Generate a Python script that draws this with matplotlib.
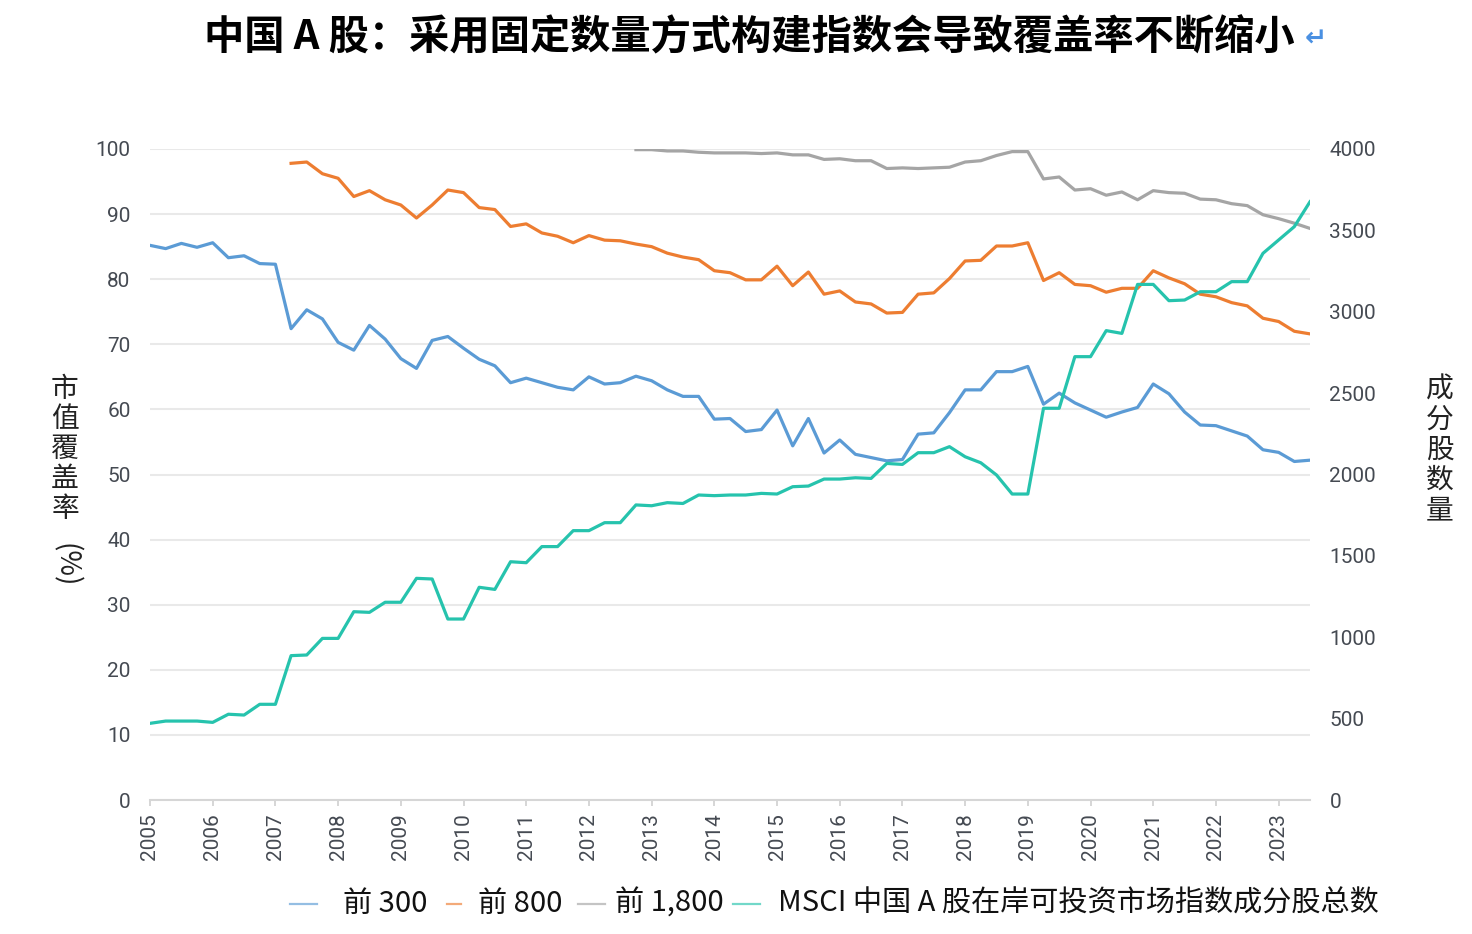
import numpy as np
import matplotlib
matplotlib.use("Agg")
import matplotlib.pyplot as plt
from matplotlib.lines import Line2D

plt.rcParams['font.family'] = ['Roboto', 'Noto Sans CJK SC', 'DejaVu Sans']

# ---------------- data (quarterly, 2005Q1 .. 2023Q3) ----------------
start_year = 2005
n_quarters = 75
years = list(range(2005, 2024))

top300 = [85.2, 84.7, 85.5, 84.9, 85.6, 83.3, 83.6, 82.4, 82.3,
          72.4, 75.3, 73.9, 70.3, 69.1, 72.9, 70.8, 67.8, 66.3,
          70.6, 71.2, 69.4, 67.7, 66.7, 64.1, 64.8, 64.1, 63.4,
          63.0, 65.0, 63.9, 64.1, 65.1, 64.4, 63.0, 62.0, 62.0,
          58.5, 58.6, 56.6, 56.9, 59.9, 54.4, 58.6, 53.3, 55.3,
          53.1, 52.6, 52.1, 52.3, 56.2, 56.4, 59.5, 63.0, 63.0,
          65.8, 65.8, 66.6, 60.8, 62.5, 61.0, 59.9, 58.8, 59.6,
          60.3, 63.9, 62.4, 59.6, 57.6, 57.5, 56.7, 55.9, 53.8,
          53.4, 52.0, 52.2]

top800_start = 9
top800 = [97.8, 98.0, 96.2, 95.5, 92.7, 93.6, 92.2, 91.4, 89.4,
          91.4, 93.7, 93.3, 91.0, 90.7, 88.1, 88.5, 87.1, 86.6,
          85.6, 86.7, 86.0, 85.9, 85.4, 85.0, 84.0, 83.4, 83.0,
          81.3, 81.0, 79.9, 79.9, 82.0, 79.0, 81.1, 77.7, 78.2,
          76.5, 76.2, 74.8, 74.9, 77.7, 77.9, 80.1, 82.8, 82.9,
          85.1, 85.1, 85.6, 79.8, 81.0, 79.2, 79.0, 78.0, 78.6,
          78.6, 81.3, 80.2, 79.3, 77.7, 77.3, 76.4, 75.9, 74.0,
          73.5, 72.0, 71.6]

top1800_start = 31
top1800 = [99.9, 99.9, 99.7, 99.7, 99.5,
           99.4, 99.4, 99.4, 99.3, 99.4, 99.1, 99.1, 98.4, 98.5,
           98.2, 98.2, 97.0, 97.1, 97.0, 97.1, 97.2, 98.0, 98.2,
           99.0, 99.6, 99.6, 95.4, 95.7, 93.7, 93.9, 92.9, 93.4,
           92.2, 93.6, 93.3, 93.2, 92.3, 92.2, 91.6, 91.3, 89.9,
           89.3, 88.6, 87.8]

msci_count = [471, 485, 485, 485, 477, 527, 522, 588, 588,
              887, 891, 993, 993, 1157, 1153, 1215, 1215, 1362,
              1358, 1112, 1112, 1307, 1294, 1464, 1458, 1557, 1557,
              1655, 1655, 1704, 1704, 1813, 1808, 1827, 1822, 1874,
              1870, 1874, 1874, 1884, 1880, 1925, 1929, 1972, 1972,
              1980, 1976, 2068, 2062, 2134, 2134, 2171, 2109, 2072,
              1997, 1880, 1880, 2407, 2407, 2724, 2724, 2884, 2867,
              3168, 3168, 3068, 3072, 3123, 3123, 3185, 3185, 3359,
              3441, 3523, 3676]

labels = ['前 300', '前 800', '前 1,800', 'MSCI 中国 A 股在岸可投资市场指数成分股总数']
colors = ['#5b9bd5', '#ed7d31', '#a5a5a5', '#26c3ad']
left_ticks = list(range(0, 101, 10))
right_ticks = list(range(0, 4001, 500))

title = '中国 A 股：采用固定数量方式构建指数会导致覆盖率不断缩小'

# ---------------- figure ----------------
W, H = 1472, 934
fig = plt.figure(figsize=(W / 100, H / 100), dpi=100)
ax = fig.add_axes([150 / W, 134 / H, 1160 / W, 651 / H])

q = start_year + np.arange(n_quarters) / 4.0
lw = 2.3
l1, = ax.plot(q, top300, color=colors[0], lw=lw, label=labels[0])
l2, = ax.plot(q[top800_start:top800_start + len(top800)], top800, color=colors[1], lw=lw, label=labels[1])
l3, = ax.plot(q[top1800_start:top1800_start + len(top1800)], top1800, color=colors[2], lw=lw, label=labels[2])

ax2 = ax.twinx()
l4, = ax2.plot(q, msci_count, color=colors[3], lw=lw, label=labels[3])

ax.set_xlim(2005, 2023.5)
ax.set_ylim(0, 100)
ax2.set_ylim(0, 4000)
ax.set_yticks(left_ticks)
ax2.set_yticks(right_ticks)
ax.set_xticks(years)
ax.set_xticklabels([str(y) for y in years], rotation=90)

for a in (ax, ax2):
    for s in ['top', 'left', 'right']:
        a.spines[s].set_visible(False)
ax2.spines['bottom'].set_visible(False)
ax.spines['bottom'].set_color('#d6d6d6')
ax.spines['bottom'].set_linewidth(1.5)

ax.grid(axis='y', color='#e9e9e9', lw=1.5)
ax.set_axisbelow(True)

tick_col = '#454a52'
ax.tick_params(axis='y', length=0, pad=14, labelsize=15, labelcolor=tick_col)
ax2.tick_params(axis='y', length=0, pad=14, labelsize=15, labelcolor=tick_col)
ax.tick_params(axis='x', length=4.5, width=1.2, color='#d0d0d0', pad=5,
               labelsize=15, labelcolor=tick_col)

# axis titles (vertical stacked CJK)
fig.text(65 / W, 1 - 449 / H, '市\n值\n覆\n盖\n率', ha='center', va='center',
         fontsize=20, family=['Noto Sans CJK SC'], linespacing=1.0, color='#222222')
fig.text(65 / W, 1 - 565 / H, '(%)', ha='center', va='center', rotation=270,
         fontsize=20, family=['Noto Sans CJK SC'], color='#222222')
fig.text(1440 / W, 1 - 450 / H, '成\n分\n股\n数\n量', ha='center', va='center',
         fontsize=20, family=['Noto Sans CJK SC'], linespacing=1.0, color='#222222')

# title
fig.text(749 / W, 1 - 38 / H, title, ha='center', va='center', fontsize=29,
         fontweight='bold', family=['Noto Sans CJK SC'], color='#000000')
fig.text(1316 / W, 1 - 40 / H, '↵', ha='center', va='center', fontsize=19,
         family=['DejaVu Sans'], color='#4a90e2', fontweight='bold')

# legend (laid out as in the reference)
leg_y = 1 - 904 / H
handle_spans = [(290, 317), (447, 461), (578, 605), (733, 760)]
text_x = [343, 478, 615, 778]
for (x0, x1), tx, lab, c in zip(handle_spans, text_x, labels, colors):
    fig.add_artist(Line2D([x0 / W, x1 / W], [leg_y, leg_y], transform=fig.transFigure,
                          color=c, lw=1.6, alpha=0.65))
    fig.text(tx / W, leg_y, lab, ha='left', va='center', fontsize=21,
             family=['Noto Sans CJK SC'], color='#111111')

fig.savefig('out.png', dpi=100)
